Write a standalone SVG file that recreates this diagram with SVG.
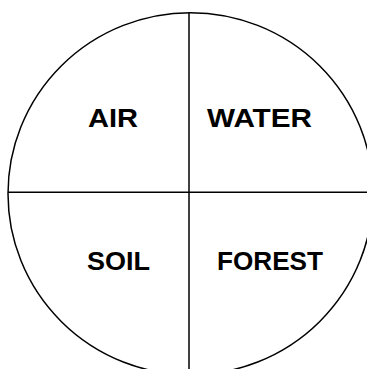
<svg xmlns="http://www.w3.org/2000/svg" width="367" height="369" viewBox="0 0 367 369">
<style>
.lbl{font-family:"Liberation Sans",Arial,sans-serif;font-weight:bold;font-size:26.5px;fill:#000}
.ln{stroke:#000;stroke-width:1.5;fill:none}
</style>
<rect width="367" height="369" fill="#fff"/>
<g id="circle"><ellipse cx="190.5" cy="193.7" rx="182.5" ry="181" class="ln"/></g>
<g id="connectors">
<line x1="189" y1="12.7" x2="189" y2="369" class="ln"/>
<line x1="8" y1="192.3" x2="367" y2="192.3" class="ln"/>
</g>
<g id="air"><text class="lbl" x="88" y="127" textLength="50" lengthAdjust="spacingAndGlyphs">AIR</text></g>
<g id="water"><text class="lbl" x="207" y="127" textLength="105" lengthAdjust="spacingAndGlyphs">WATER</text></g>
<g id="soil"><text class="lbl" x="87" y="269.5" textLength="63" lengthAdjust="spacingAndGlyphs">SOIL</text></g>
<g id="forest"><text class="lbl" x="217" y="269.5" textLength="106" lengthAdjust="spacingAndGlyphs">FOREST</text></g>
</svg>
